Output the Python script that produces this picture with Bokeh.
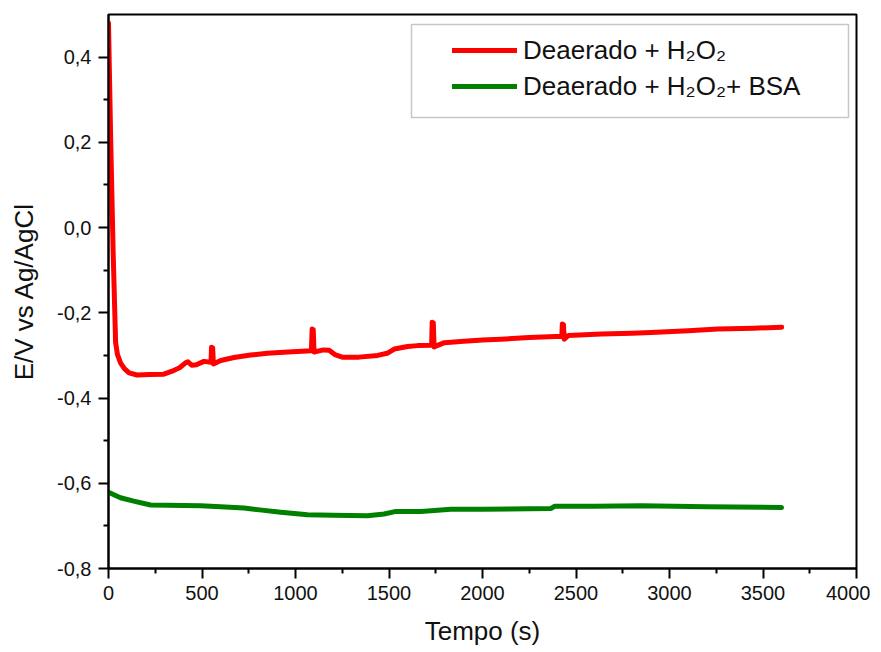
from bokeh.plotting import figure
from bokeh.models import (FixedTicker, CustomJSTickFormatter, Legend, LegendItem,
                          BoxAnnotation, Range1d)
from bokeh.embed import file_html
from bokeh.resources import INLINE

# ---- data ----
red_t = [0, 12, 25, 38, 48, 65, 85, 110, 153, 220, 296, 340, 380, 410, 425, 445, 470,
         510, 548, 551, 557, 561, 600, 671, 760, 850, 960, 1085, 1089, 1095, 1099, 1150,
         1180, 1210, 1250, 1340, 1439, 1490, 1528, 1600, 1653, 1728, 1731, 1737, 1741,
         1796, 1900, 2000, 2099, 2250, 2424, 2427, 2433, 2437, 2460, 2635, 2800, 2902,
         3100, 3259, 3450, 3600]
red_v = [0.48, 0.20, -0.06, -0.27, -0.298, -0.318, -0.331, -0.341, -0.346, -0.345,
         -0.344, -0.337, -0.329, -0.318, -0.315, -0.323, -0.322, -0.314, -0.316, -0.281,
         -0.282, -0.320, -0.312, -0.305, -0.299, -0.295, -0.292, -0.289, -0.238, -0.240,
         -0.292, -0.287, -0.288, -0.298, -0.304, -0.304, -0.300, -0.295, -0.285, -0.279,
         -0.277, -0.276, -0.222, -0.224, -0.280, -0.270, -0.267, -0.264, -0.262, -0.258,
         -0.255, -0.226, -0.228, -0.262, -0.253, -0.250, -0.248, -0.246, -0.242, -0.238,
         -0.236, -0.234]

green_t = [0, 64, 135, 225, 400, 493, 600, 725, 820, 921, 1064, 1200, 1385, 1474, 1537,
           1671, 1778, 1831, 2000, 2367, 2385, 2600, 2849, 3200, 3599]
green_v = [-0.621, -0.634, -0.642, -0.651, -0.652, -0.653, -0.655, -0.658, -0.663,
           -0.668, -0.674, -0.675, -0.676, -0.672, -0.666, -0.666, -0.663, -0.661,
           -0.661, -0.659, -0.654, -0.654, -0.653, -0.655, -0.657]

x_major = [0, 500, 1000, 1500, 2000, 2500, 3000, 3500, 4000]
x_minor = [250, 750, 1250, 1750, 2250, 2750, 3250, 3750]
y_major = [-0.8, -0.6, -0.4, -0.2, 0.0, 0.2, 0.4]
y_minor = [-0.7, -0.5, -0.3, -0.1, 0.1, 0.3]

label_red = "Deaerado + H\u2082O\u2082"
label_green = "Deaerado + H\u2082O\u2082+ BSA"

FONT = "Liberation Sans"

p = figure(width=870, height=651, output_backend="svg", toolbar_location=None,
           x_range=Range1d(0, 4000), y_range=Range1d(-0.8, 0.5),
           min_border_left=108, min_border_right=14, min_border_top=14,
           min_border_bottom=83)
p.grid.visible = False
p.outline_line_color = "black"
p.outline_line_width = 2

r_red = p.line(red_t, red_v, line_color="#ff0000", line_width=5, line_cap="round",
               line_join="round")
r_green = p.line(green_t, green_v, line_color="#008000", line_width=5,
                 line_cap="round", line_join="round")

for ax in (p.xaxis[0], p.yaxis[0]):
    ax.axis_line_width = 2
    ax.major_tick_line_width = 2
    ax.minor_tick_line_width = 2
    ax.major_tick_in = 0
    ax.major_tick_out = 10
    ax.minor_tick_in = 0
    ax.minor_tick_out = 5
    ax.major_label_text_font = FONT
    ax.major_label_text_font_size = "20px"
    ax.major_label_text_color = "#111111"
    ax.axis_label_text_font = FONT
    ax.axis_label_text_font_size = "26px"
    ax.axis_label_text_font_style = "normal"
    ax.axis_label_text_color = "#111111"

p.xaxis.ticker = FixedTicker(ticks=x_major, minor_ticks=x_minor)
p.yaxis.ticker = FixedTicker(ticks=y_major, minor_ticks=y_minor)
p.yaxis.formatter = CustomJSTickFormatter(code="return tick.toFixed(1).replace('.', ',');")
p.xaxis.formatter = CustomJSTickFormatter(code="return tick.toFixed(0);")
p.xaxis.axis_label = "Tempo (s)"
p.yaxis.axis_label = "E/V vs Ag/AgCl"
p.xaxis.major_label_standoff = 7
p.xaxis.axis_label_standoff = 13
p.yaxis.major_label_standoff = 7
p.yaxis.axis_label_standoff = 15

box = BoxAnnotation(left=411, right=848, top=24, bottom=117,
                    left_units="canvas", right_units="canvas",
                    top_units="canvas", bottom_units="canvas",
                    fill_color="white", fill_alpha=1.0,
                    line_color="#444444", line_width=1.5)
p.add_layout(box)

legend = Legend(items=[LegendItem(label=label_red, renderers=[r_red]),
                       LegendItem(label=label_green, renderers=[r_green])],
                location=(344, 464), padding=0, spacing=0, margin=0,
                glyph_width=65, glyph_height=36, label_height=36, label_standoff=6,
                border_line_alpha=0, background_fill_alpha=0,
                label_text_font=FONT, label_text_font_size="26px",
                label_text_color="#111111")
p.add_layout(legend)

open("out.html", "w").write(file_html(p, INLINE))
